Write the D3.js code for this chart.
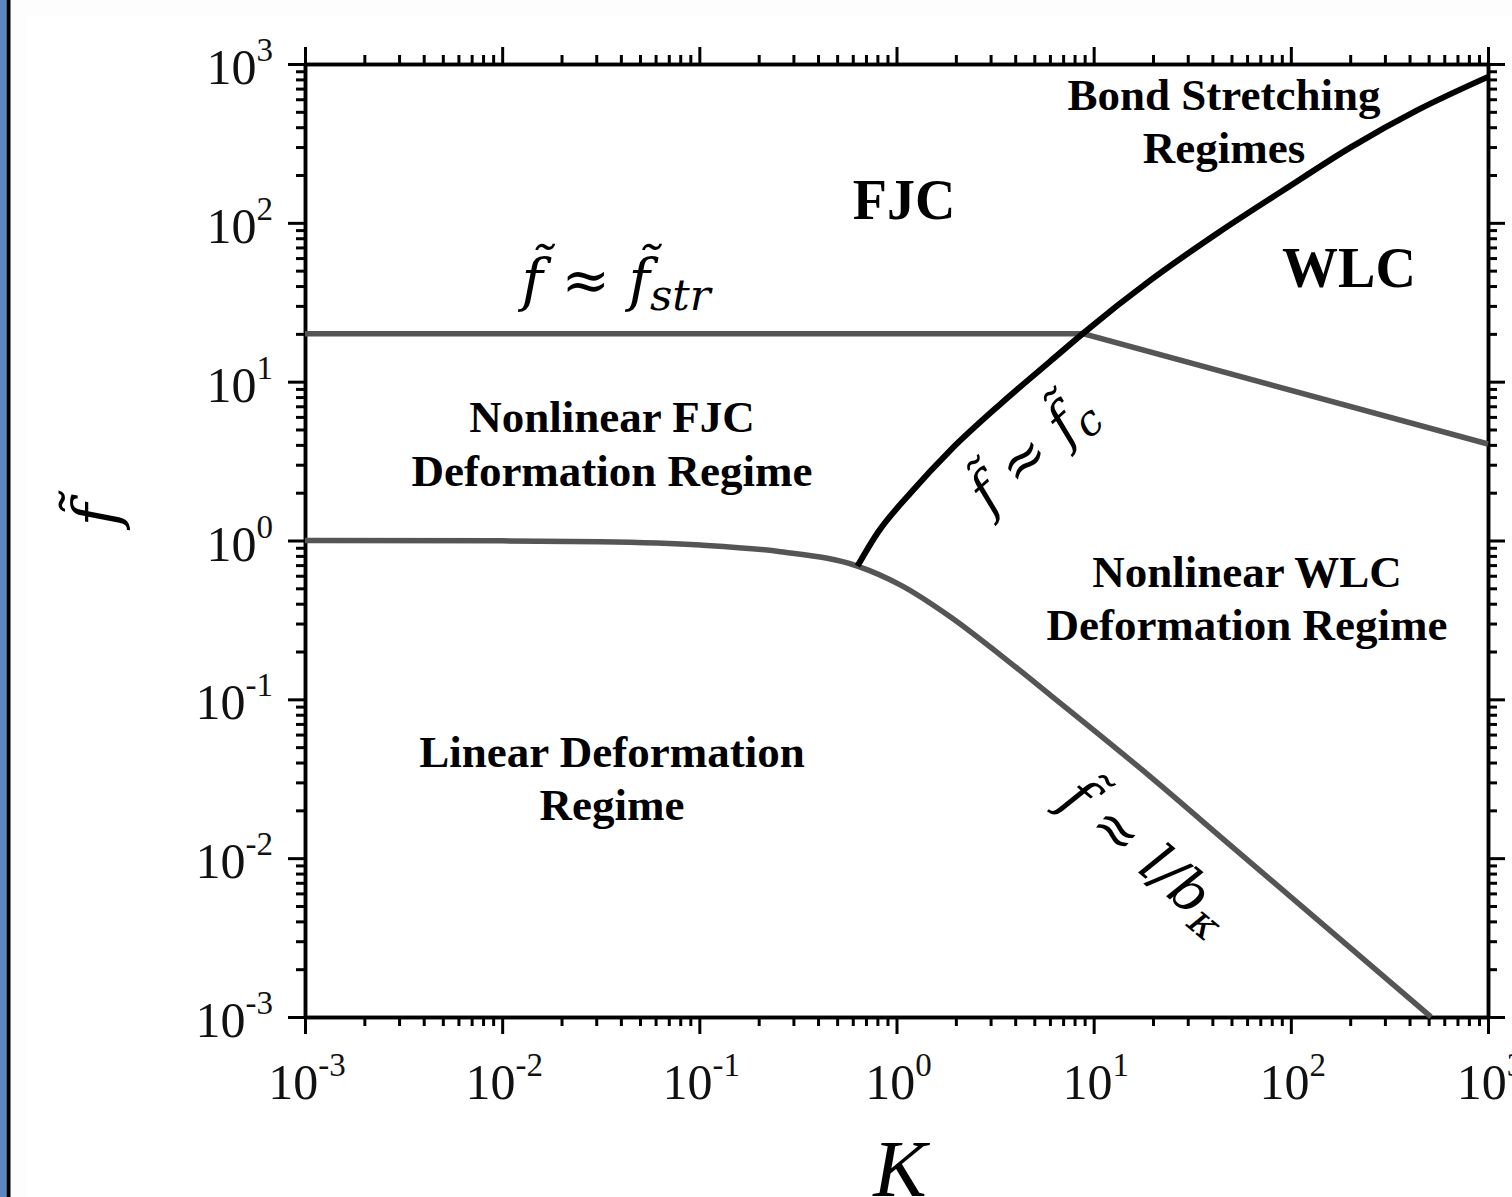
<!DOCTYPE html>
<html>
  <head>
    <script src="https://d3js.org/d3.v7.min.js"></script>
    <style>
      html,
      body {
        margin: 0;
        padding: 0;
        background: #fff;
      }
      svg text {
        font-family: "Liberation Serif", "Times New Roman", serif;
      }
      .region {
        font-weight: bold;
      }
      .math {
        font-style: italic;
      }
      .formula {
        font-family: "DejaVu Serif", serif;
        font-style: italic;
      }
    </style>
  </head>
  <body>
    <div id="chart"></div>
    <script>
      const width = 1512;
      const height = 1197;

      // decades shown on both axes
      const kTicks = [1e-3, 1e-2, 1e-1, 1e0, 1e1, 1e2, 1e3];
      const fTicks = [1e-3, 1e-2, 1e-1, 1e0, 1e1, 1e2, 1e3];
      const tickExp = ["-3", "-2", "-1", "0", "1", "2", "3"];

      // lower gray boundary (linear -> nonlinear), ends at f ~ l/b_K
      const lowerK = [0.001, 0.01, 0.0314, 0.101, 0.258, 0.634, 1.05, 1.88, 3.37, 6.05, 19.5, 47.9, 514];
      const lowerF = [1.0, 0.995, 0.983, 0.937, 0.85, 0.69, 0.524, 0.33, 0.19, 0.106, 0.0324, 0.01245, 0.001];

      // black boundary f ~ f_c (FJC / WLC)
      const fcK = [0.634, 0.801, 1.178, 1.88, 3.37, 6.05, 8.9, 19.5, 42.6, 92, 202, 441, 1000];
      const fcF = [0.69, 1.115, 1.99, 3.71, 7.24, 13.5, 20.3, 43.7, 86.3, 161, 300, 514, 830];

      // upper gray boundary f ~ f_str
      const strK = [0.001, 8.9, 1000];
      const strF = [20, 20, 4.05];

      const margin = { left: 305, right: 1488, top: 64, bottom: 1017 };

      const svg = d3
        .select("#chart")
        .append("svg")
        .attr("width", width)
        .attr("height", height);

      // page frame: blue + black stripe on the left
      svg.append("rect").attr("width", width).attr("height", height).attr("fill", "#fdfdfd");
      svg.append("rect").attr("x", 27).attr("y", 16).attr("width", width - 27).attr("height", height - 16).attr("fill", "#ffffff");
      svg.append("rect").attr("x", 0).attr("y", 0).attr("width", 6.5).attr("height", height).attr("fill", "#5a86c3");
      svg.append("rect").attr("x", 6.5).attr("y", 0).attr("width", 4).attr("height", height).attr("fill", "#000");

      const x = d3.scaleLog().domain([1e-3, 1e3]).range([margin.left, margin.right]);
      const y = d3.scaleLog().domain([1e-3, 1e3]).range([margin.bottom, margin.top]);

      const minor = [];
      for (let e = -3; e < 3; e++) {
        for (let m = 2; m <= 9; m++) minor.push(m * Math.pow(10, e));
      }

      function drawAxis(axisFn, scale, transform, size, values) {
        const g = svg
          .append("g")
          .attr("transform", transform)
          .call(axisFn(scale).tickValues(values).tickSize(size).tickSizeOuter(0).tickFormat(""));
        g.select(".domain").attr("stroke", "#000").attr("stroke-width", 3.5);
        g.selectAll(".tick line").attr("stroke", "#000").attr("stroke-width", 3);
        return g;
      }

      [
        [d3.axisBottom, x, `translate(0,${margin.bottom})`],
        [d3.axisTop, x, `translate(0,${margin.top})`],
        [d3.axisLeft, y, `translate(${margin.left},0)`],
        [d3.axisRight, y, `translate(${margin.right},0)`],
      ].forEach(([fn, sc, tr]) => {
        drawAxis(fn, sc, tr, 9, minor);
        drawAxis(fn, sc, tr, 17, kTicks);
      });

      // tick labels 10^n
      kTicks.forEach((d, i) => {
        const t = svg
          .append("text")
          .attr("x", x(d) + 2)
          .attr("y", margin.bottom + 82)
          .attr("text-anchor", "middle")
          .attr("font-size", 50)
          .attr("fill", "#111");
        t.append("tspan").text("10");
        t.append("tspan").attr("dy", -23).attr("font-size", 33).text(tickExp[i]);
      });
      fTicks.forEach((d, i) => {
        const t = svg
          .append("text")
          .attr("x", margin.left - 32)
          .attr("y", y(d) + 20)
          .attr("text-anchor", "end")
          .attr("font-size", 50)
          .attr("fill", "#111");
        t.append("tspan").text("10");
        t.append("tspan").attr("dy", -23).attr("font-size", 33).text(tickExp[i]);
      });

      // axis titles
      svg
        .append("text")
        .attr("class", "math")
        .attr("x", 900)
        .attr("y", 1196)
        .attr("text-anchor", "middle")
        .attr("font-size", 80)
        .text("K");
      svg
        .append("text")
        .attr("class", "formula")
        .attr("transform", "translate(117,515) rotate(-90)")
        .attr("text-anchor", "middle")
        .attr("font-size", 62)
        .text("f\u0303");

      const line = d3
        .line()
        .x((d) => x(d[0]))
        .y((d) => y(d[1]))
        .curve(d3.curveMonotoneX);

      svg
        .append("path")
        .datum(strK.map((k, i) => [k, strF[i]]))
        .attr("d", d3.line().x((d) => x(d[0])).y((d) => y(d[1])))
        .attr("fill", "none")
        .attr("stroke", "#555")
        .attr("stroke-width", 5.5);

      svg
        .append("path")
        .datum(lowerK.map((k, i) => [k, lowerF[i]]))
        .attr("d", line)
        .attr("fill", "none")
        .attr("stroke", "#555")
        .attr("stroke-width", 5.5);

      svg
        .append("path")
        .datum(fcK.map((k, i) => [k, fcF[i]]))
        .attr("d", line)
        .attr("fill", "none")
        .attr("stroke", "#000")
        .attr("stroke-width", 6);

      // region labels
      const labels = [
        ["Bond Stretching", 1224, 110, 45],
        ["Regimes", 1224, 163, 45],
        ["FJC", 904, 219, 56],
        ["WLC", 1349, 287, 56],
        ["Nonlinear FJC", 612, 432, 45],
        ["Deformation Regime", 612, 486, 45],
        ["Nonlinear WLC", 1247, 587, 45],
        ["Deformation Regime", 1247, 640, 45],
        ["Linear Deformation", 612, 767, 45],
        ["Regime", 612, 820, 45],
      ];
      labels.forEach(([txt, lx, ly, fs]) => {
        svg
          .append("text")
          .attr("class", "region")
          .attr("x", lx)
          .attr("y", ly)
          .attr("text-anchor", "middle")
          .attr("font-size", fs)
          .text(txt);
      });

      // formula labels
      function formula(transform, fs, parts) {
        const t = svg
          .append("text")
          .attr("class", "formula")
          .attr("transform", transform)
          .attr("text-anchor", "middle")
          .attr("font-size", fs);
        parts.forEach(([s, opts]) => {
          const sp = t.append("tspan").text(s);
          if (opts && opts.upright) sp.attr("font-style", "normal");
          if (opts && opts.sub) sp.attr("dy", fs * 0.18).attr("font-size", fs * 0.75);
        });
      }

      formula("translate(616,300)", 58, [
        ["f\u0303"],
        [" \u2248 ", { upright: true }],
        ["f\u0303"],
        ["str", { sub: true }],
      ]);
      formula("translate(1045,466) rotate(-42)", 56, [
        ["f\u0303"],
        [" \u2248 ", { upright: true }],
        ["f\u0303"],
        ["c", { sub: true }],
      ]);
      formula("translate(1135,870) rotate(40)", 56, [
        ["f\u0303"],
        [" \u2248 ", { upright: true }],
        ["l/b"],
        ["\u03ba", { sub: true }],
      ]);
    </script>
  </body>
</html>
